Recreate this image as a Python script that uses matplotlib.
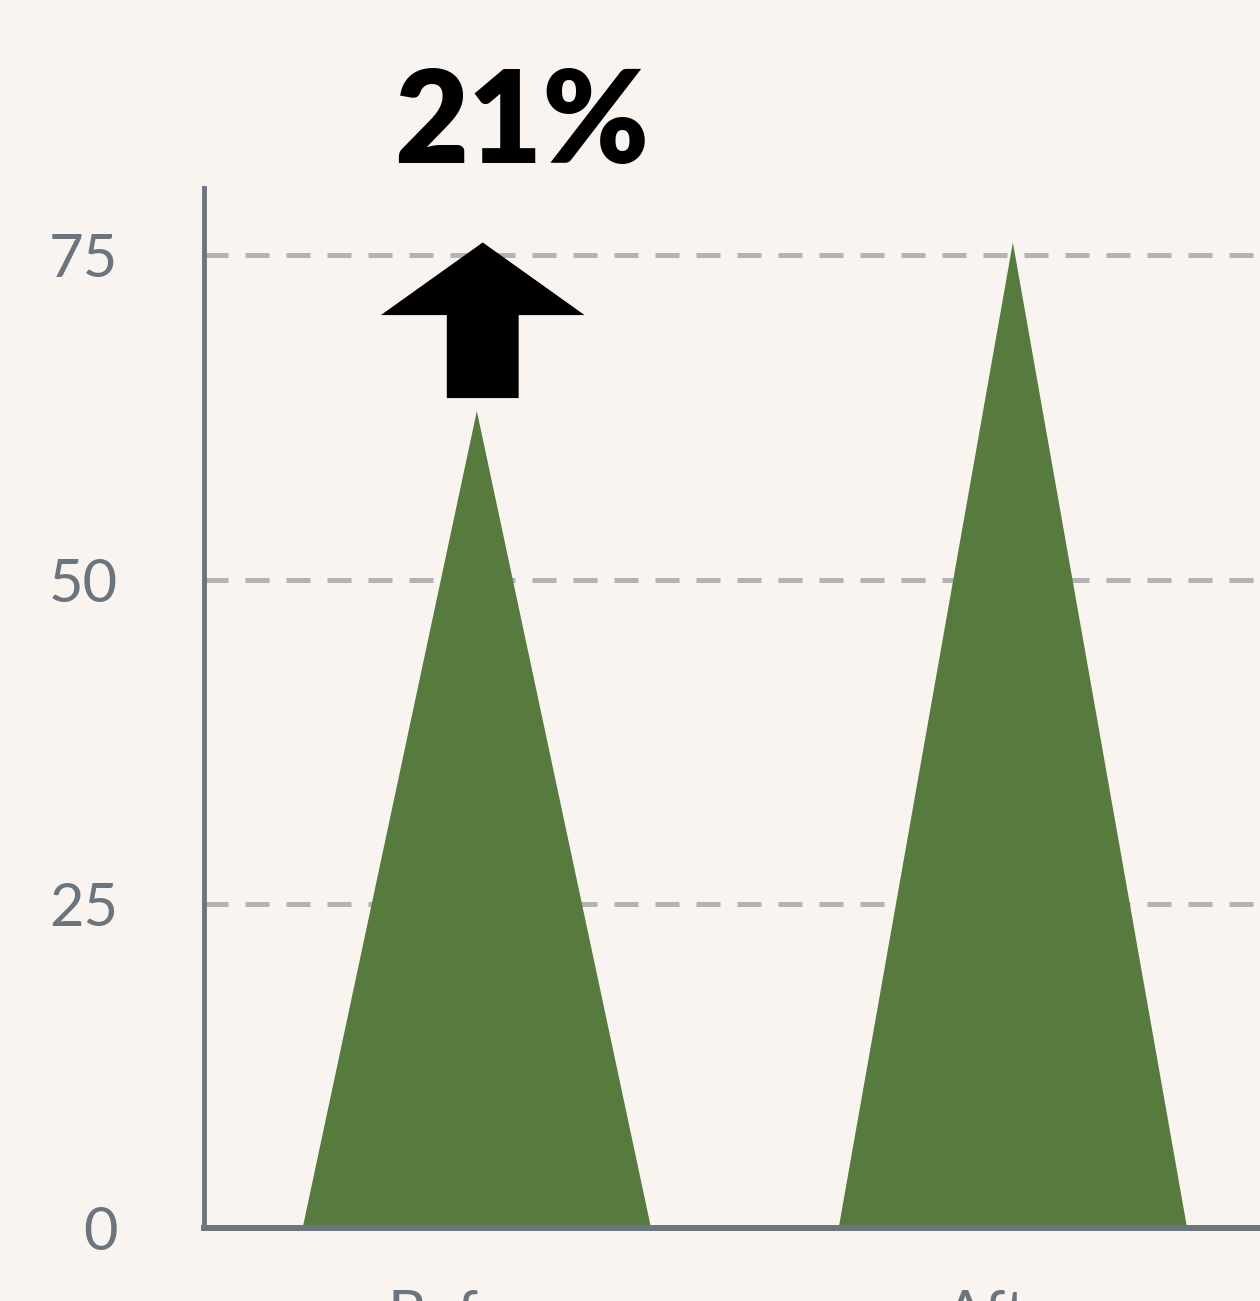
import matplotlib

matplotlib.use("Agg")

import matplotlib.pyplot as plt
from matplotlib.patches import FancyArrow

# Values shown by the two spikes
CATEGORIES = ["Before", "After"]
VALUES = [63, 76]
Y_TICKS = [0, 25, 50, 75]

BACKGROUND = "#f9f4f0"
SPIKE_COLOR = "#577b3e"
AXIS_COLOR = "#6c757d"
GRID_COLOR = "#b3b3b3"


def main():
    fig = plt.figure(figsize=(12.6, 13.01), dpi=100)
    fig.patch.set_facecolor(BACKGROUND)
    ax = fig.add_axes([0.1619, 0.0561, 0.8381, 0.7994])
    ax.set_facecolor(BACKGROUND)

    positions = list(range(len(CATEGORIES)))
    half_width = 0.325
    for pos, value in zip(positions, VALUES):
        ax.fill(
            [pos - half_width, pos, pos + half_width],
            [0, value, 0],
            color=SPIKE_COLOR,
            linewidth=0,
            zorder=3,
        )

    ax.set_xlim(-0.509, 1.461)
    ax.set_ylim(0, 80.2)
    ax.set_yticks(Y_TICKS)
    ax.set_xticks(positions)
    ax.set_xticklabels(CATEGORIES)

    ax.grid(True, axis="y", color=GRID_COLOR, linewidth=3.6,
            linestyle=(0, (4.8, 3.4)), zorder=1)
    ax.set_axisbelow(True)

    for side in ["top", "right"]:
        ax.spines[side].set_visible(False)
    ax.spines["left"].set_color(AXIS_COLOR)
    ax.spines["left"].set_linewidth(3.5)
    ax.spines["bottom"].set_color(AXIS_COLOR)
    ax.spines["bottom"].set_linewidth(4.3)
    ax.spines["bottom"].set_zorder(4)

    ax.tick_params(axis="y", length=0, pad=62, labelsize=43,
                   labelcolor=AXIS_COLOR)
    ax.tick_params(axis="x", length=0, pad=44, labelsize=43,
                   labelcolor=AXIS_COLOR)
    for label in ax.get_yticklabels() + ax.get_xticklabels():
        label.set_fontfamily("Lato")

    # Arrow pointing from the first peak up to the second value
    before, after = VALUES
    arrow = FancyArrow(
        positions[0] + 0.011, before + 1, 0, after - before - 1,
        width=0.134, head_width=0.38, head_length=5.6,
        length_includes_head=True, color="black", linewidth=0, zorder=5,
    )
    ax.add_patch(arrow)

    change = (after - before) / before * 100
    ax.annotate(
        f"{change:.0f}%",
        xy=(positions[0], 82.1),
        xytext=(32, 0),
        textcoords="offset points",
        ha="center", va="baseline",
        fontsize=92, fontweight="heavy", fontfamily="Lato",
        color="black", annotation_clip=False,
    )

    fig.savefig("out.png", dpi=100, facecolor=BACKGROUND)
    plt.close(fig)


if __name__ == "__main__":
    main()
